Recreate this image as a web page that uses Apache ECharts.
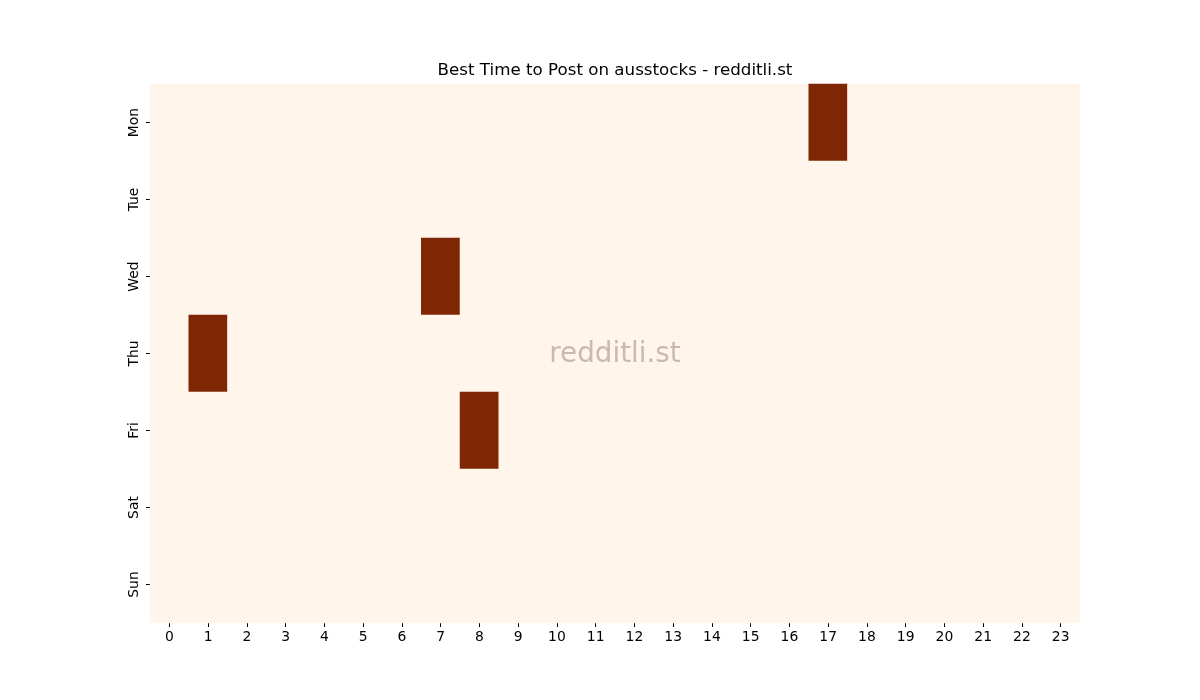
<!DOCTYPE html>
<html>
<head>
<meta charset="utf-8">
<script src="https://cdn.jsdelivr.net/npm/echarts@6/dist/echarts.min.js"></script>
<style>
  html, body { margin: 0; padding: 0; background: #fff; }
  #chart { width: 1200px; height: 700px; }
</style>
</head>
<body>
<div id="chart"></div>
<script>
// data
var days = ["Mon", "Tue", "Wed", "Thu", "Fri", "Sat", "Sun"];
var hours = ["0", "1", "2", "3", "4", "5", "6", "7", "8", "9", "10", "11",
    "12", "13", "14", "15", "16", "17", "18", "19", "20", "21", "22", "23"];
var monValues = [0,0,0,0,0,0,0,0,0,0,0,0,0,0,0,0,0,1,0,0,0,0,0,0];
var tueValues = [0,0,0,0,0,0,0,0,0,0,0,0,0,0,0,0,0,0,0,0,0,0,0,0];
var wedValues = [0,0,0,0,0,0,0,1,0,0,0,0,0,0,0,0,0,0,0,0,0,0,0,0];
var thuValues = [0,1,0,0,0,0,0,0,0,0,0,0,0,0,0,0,0,0,0,0,0,0,0,0];
var friValues = [0,0,0,0,0,0,0,0,1,0,0,0,0,0,0,0,0,0,0,0,0,0,0,0];
var satValues = [0,0,0,0,0,0,0,0,0,0,0,0,0,0,0,0,0,0,0,0,0,0,0,0];
var sunValues = [0,0,0,0,0,0,0,0,0,0,0,0,0,0,0,0,0,0,0,0,0,0,0,0];

(function () {
    var rows = [monValues, tueValues, wedValues, thuValues, friValues, satValues, sunValues];
    var cells = [];
    for (var d = 0; d < rows.length; d++) {
        for (var h = 0; h < rows[d].length; h++) {
            cells.push([h, d, rows[d][h]]);
        }
    }

    var font = "DejaVu Sans";
    var chart = echarts.init(document.getElementById("chart"), null, { renderer: "canvas" });
    var option = {
        animation: false,
        backgroundColor: "#ffffff",
        grid: { left: 150, top: 84, width: 930, height: 539 },
        xAxis: {
            type: "category",
            data: hours,
            boundaryGap: true,
            axisLine: { show: false },
            axisTick: { show: true, alignWithLabel: true, length: 4, lineStyle: { color: "#000" } },
            axisLabel: { fontFamily: font, fontSize: 13.9, color: "#000", margin: 7, interval: 0 },
            splitLine: { show: false }
        },
        yAxis: {
            type: "category",
            data: days,
            inverse: true,
            boundaryGap: true,
            axisLine: { show: false },
            axisTick: { show: true, alignWithLabel: true, length: 4, lineStyle: { color: "#000" } },
            axisLabel: { fontFamily: font, fontSize: 13.9, color: "#000", rotate: 90, margin: 9 },
            splitLine: { show: false }
        },
        visualMap: {
            show: false,
            min: 0,
            max: 1,
            inRange: { color: ["#fff5eb", "#fdd0a2", "#fd8d3c", "#d94801", "#7f2704"] }
        },
        series: [{
            type: "heatmap",
            data: cells,
            itemStyle: { borderWidth: 0 },
            emphasis: { disabled: true }
        }],
        graphic: [{
            type: "text",
            style: {
                x: 615,
                y: 71,
                text: "Best Time to Post on ausstocks - redditli.st",
                fontFamily: font,
                fontSize: 16.7,
                fill: "#000",
                textAlign: "center",
                textVerticalAlign: "middle"
            },
            z: 100
        }, {
            type: "text",
            style: {
                x: 615,
                y: 355,
                text: "redditli.st",
                fontFamily: font,
                fontSize: 27.8,
                fill: "#c9b9b0",
                textAlign: "center",
                textVerticalAlign: "middle"
            },
            z: 100
        }]
    };
    chart.setOption(option);
})();
</script>
</body>
</html>
